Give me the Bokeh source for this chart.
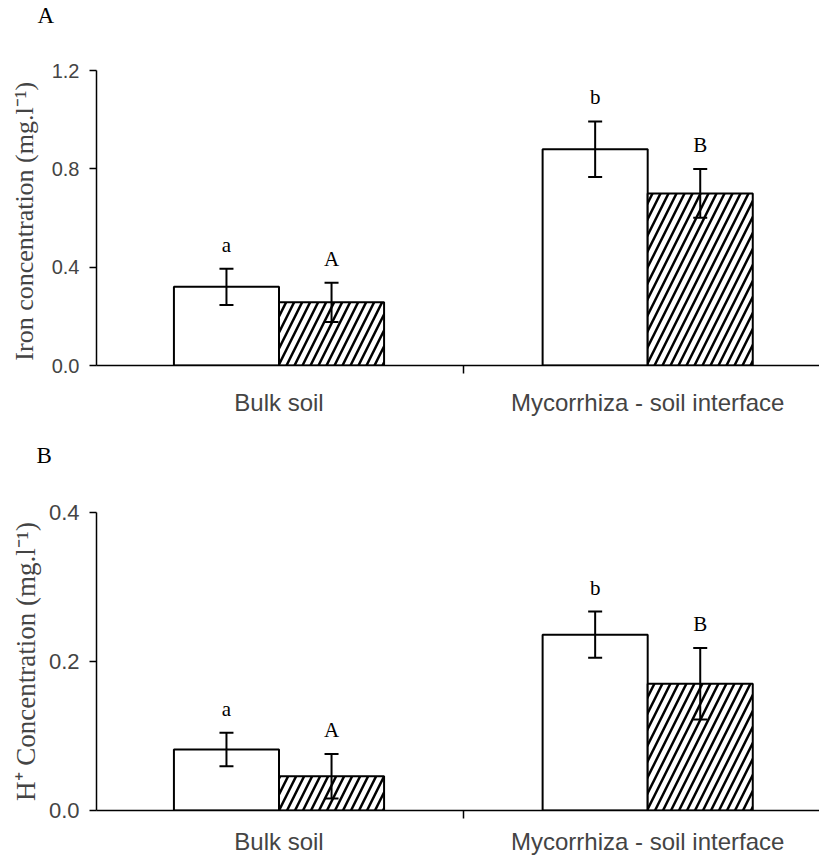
from bokeh.plotting import figure
from bokeh.layouts import column
from bokeh.models import (ColumnDataSource, Whisker, TeeHead, FixedTicker, Range1d,
                          NumeralTickFormatter, Title)
from bokeh.core.properties import value
from bokeh.embed import file_html
from bokeh.resources import INLINE

# ---------------- data ----------------
categories = ["Bulk soil", "Mycorrhiza - soil interface"]

iron_open = [0.32, 0.88]
iron_open_err = [0.074, 0.113]
iron_hatched = [0.257, 0.70]
iron_hatched_err = [0.080, 0.099]

h_open = [0.082, 0.236]
h_open_err = [0.0225, 0.031]
h_hatched = [0.046, 0.170]
h_hatched_err = [0.030, 0.048]

open_letters = ["a", "b"]
hatched_letters = ["A", "B"]

iron_ticks = [0.0, 0.4, 0.8, 1.2]
h_ticks = [0.0, 0.2, 0.4]

# ---------------- style ----------------
BAR_W = 0.285
X0, X1 = 0.005, 1.966
SANS = "Liberation Sans"
SERIF = "Liberation Serif"


def panel(letter, ylabel, opn, opn_err, hat, hat_err, yticks, height,
          border_left, border_top, border_bottom, tick_size, letter_dx, letter_gap,
          xlabel_standoff, ylabel_size, ylabel_standoff):
    pos = [i + 0.5 for i in range(len(categories))]
    p = figure(width=819, height=height, output_backend="svg", toolbar_location=None,
               x_range=Range1d(X0, X1), y_range=Range1d(yticks[0], yticks[-1]),
               min_border_left=border_left, min_border_right=0,
               min_border_top=border_top, min_border_bottom=border_bottom)
    p.outline_line_color = None
    p.grid.visible = False
    p.background_fill_color = "white"
    p.border_fill_color = "white"

    # spacer between the frame and the panel letter, then the panel letter
    p.add_layout(Title(text=" ", text_font_size="1px", standoff=letter_gap), "above")
    p.add_layout(Title(text=letter, text_font=SERIF, text_font_size="23px",
                       text_font_style="normal", text_color="black",
                       align="left", offset=letter_dx, standoff=0), "above")

    x_open = [x - BAR_W / 2 for x in pos]
    x_hat = [x + BAR_W / 2 for x in pos]

    src_o = ColumnDataSource(dict(x=x_open, top=opn,
                                  upper=[v + e for v, e in zip(opn, opn_err)],
                                  lower=[v - e for v, e in zip(opn, opn_err)],
                                  lab=open_letters))
    src_h = ColumnDataSource(dict(x=x_hat, top=hat,
                                  upper=[v + e for v, e in zip(hat, hat_err)],
                                  lower=[v - e for v, e in zip(hat, hat_err)],
                                  lab=hatched_letters))

    p.vbar(x="x", top="top", bottom=0, width=BAR_W, source=src_o,
           fill_color="white", line_color="black", line_width=2)
    p.vbar(x="x", top="top", bottom=0, width=BAR_W, source=src_h,
           fill_color="white", line_color="black", line_width=2,
           hatch_pattern="/", hatch_color="black", hatch_weight=2.5, hatch_scale=16)

    for src in (src_o, src_h):
        w = Whisker(base="x", upper="upper", lower="lower", source=src,
                    line_color="black", line_width=2, level="annotation",
                    upper_head=TeeHead(size=14, line_width=2, line_color="black"),
                    lower_head=TeeHead(size=14, line_width=2, line_color="black"))
        p.add_layout(w)
        p.text(x="x", y="upper", text="lab", source=src, y_offset=-24,
               text_align="center", text_baseline="middle",
               text_font=value(SERIF), text_font_size="21px", text_color="black")

    # x axis
    xa = p.xaxis[0]
    xa.ticker = FixedTicker(ticks=pos, minor_ticks=[i for i in range(1, len(categories))])
    xa.major_label_overrides = {x: c for x, c in zip(pos, categories)}
    xa.major_tick_out = 0
    xa.major_tick_in = 0
    xa.minor_tick_out = 8
    xa.minor_tick_in = 0
    xa.minor_tick_line_width = 1.5
    xa.axis_line_width = 1.5
    xa.major_label_text_font = SANS
    xa.major_label_text_font_size = "24px"
    xa.major_label_standoff = xlabel_standoff

    # y axis
    ya = p.yaxis[0]
    ya.ticker = FixedTicker(ticks=yticks)
    ya.formatter = NumeralTickFormatter(format="0.0")
    ya.major_tick_out = 7
    ya.major_tick_in = 0
    ya.minor_tick_out = 0
    ya.minor_tick_in = 0
    ya.axis_line_width = 1.5
    ya.major_tick_line_width = 1.5
    ya.major_label_text_font = SANS
    ya.major_label_text_font_size = tick_size
    ya.major_label_standoff = 10
    ya.axis_label = ylabel
    ya.axis_label_text_font = SERIF
    ya.axis_label_text_font_style = "normal"
    ya.axis_label_text_font_size = ylabel_size
    ya.axis_label_standoff = ylabel_standoff
    return p


pA = panel("A", "Iron  concentration (mg.l\u207b\u00b9)", iron_open, iron_open_err,
           iron_hatched, iron_hatched_err, iron_ticks, 430, 96, 70, 65, "20px",
           -59, 40, 15, "26px", 10)
pB = panel("B", "H\u207a Concentration (mg.l\u207b\u00b9)", h_open, h_open_err,
           h_hatched, h_hatched_err, h_ticks, 434, 92, 82, 54, "22px",
           -60, 42, 9, "27px", 5)

layout = column(pA, pB, spacing=0)
open("out.html", "w").write(file_html(layout, INLINE))
